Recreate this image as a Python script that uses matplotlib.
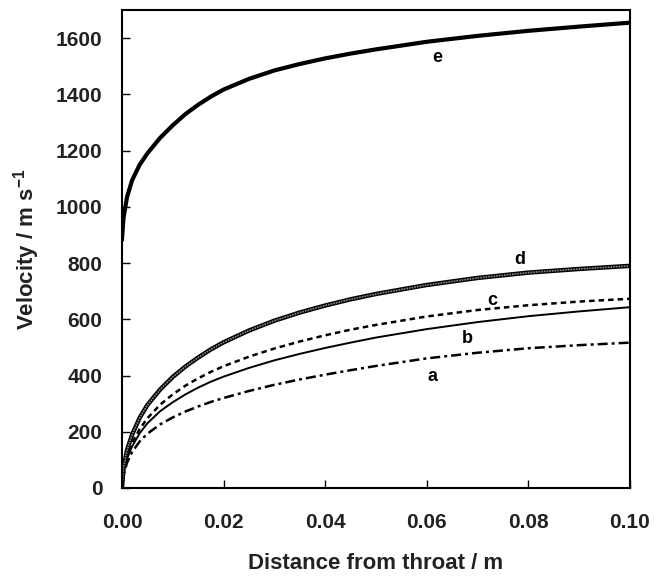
import matplotlib
matplotlib.use("Agg")
import matplotlib.pyplot as plt

plt.rcParams['font.family'] = ['Liberation Sans', 'DejaVu Sans']
plt.rcParams['mathtext.fontset'] = 'custom'
plt.rcParams['mathtext.bf'] = 'Liberation Sans:bold'
plt.rcParams['mathtext.rm'] = 'Liberation Sans:bold'

# distance from throat (m)
dist = [0, 0.0003, 0.001, 0.002, 0.0035, 0.005, 0.0075, 0.01, 0.0125, 0.015, 0.0175, 0.02,
        0.025, 0.03, 0.035, 0.04, 0.045, 0.05, 0.06, 0.07, 0.08, 0.09, 0.10]

# velocities (m/s)
vel_a = [0, 45, 90, 128, 166, 193, 226, 251, 272, 290, 306, 320,
         345, 367, 386, 403, 419, 434, 461, 481, 497, 508, 517]
vel_b = [0, 55, 105, 148, 195, 230, 273, 305, 333, 357, 378, 396,
         427, 454, 477, 498, 517, 535, 565, 590, 611, 628, 643]
vel_c = [0, 60, 115, 160, 210, 248, 296, 333, 364, 390, 413, 433,
         467, 496, 521, 543, 563, 580, 610, 633, 650, 663, 673]
vel_d = [0, 70, 135, 190, 250, 295, 350, 395, 432, 464, 493, 518,
         560, 595, 624, 649, 671, 690, 722, 747, 766, 779, 790]
vel_e = [885, 960, 1035, 1095, 1150, 1190, 1245, 1290, 1330, 1363, 1392, 1417,
         1455, 1485, 1508, 1528, 1545, 1560, 1587, 1608, 1626, 1641, 1655]

# curve labels and where they sit
labels = ['a', 'b', 'c', 'd', 'e']
label_x = [0.0612, 0.0681, 0.0730, 0.0783, 0.0620]
label_y = [395, 533, 668, 811, 1532]

xticks = [0.00, 0.02, 0.04, 0.06, 0.08, 0.10]
yticks = [0, 200, 400, 600, 800, 1000, 1200, 1400, 1600]

fig = plt.figure(figsize=(6.54, 5.76), dpi=100)
ax = fig.add_axes([0.1865, 0.1528, 0.7765, 0.8298])

ax.plot(dist, vel_a, color='black', lw=1.8, linestyle=(0, (4, 1.6, 1.2, 1.6)))
ax.plot(dist, vel_b, color='black', lw=1.4)
ax.plot(dist, vel_c, color='black', lw=1.8, linestyle=(0, (2.2, 1.6)))
# d is a thick line with a grey core
ax.plot(dist, vel_d, color='black', lw=3.2, solid_capstyle='butt')
ax.plot(dist, vel_d, color='#8a8a8a', lw=1.2, linestyle=(0, (1, 0.6)))
ax.plot(dist, vel_e, color='black', lw=3.0)

for lab, lx, ly in zip(labels, label_x, label_y):
    ax.text(lx, ly, lab, fontsize=13, fontweight='bold', ha='center', va='center')

ax.set_xlim(0, 0.10)
ax.set_ylim(0, 1700)
ax.set_xticks(xticks)
ax.set_xticklabels(['%.2f' % v for v in xticks])
ax.set_yticks(yticks)

for s in ax.spines.values():
    s.set_linewidth(1.5)

ax.tick_params(direction='in', length=6, width=1, labelsize=15, top=False, right=False)
ax.tick_params(axis='x', pad=18)
ax.tick_params(axis='y', pad=14)
for t in ax.get_xticklabels() + ax.get_yticklabels():
    t.set_fontweight('bold')
    t.set_color('#222222')

ax.set_xlabel('Distance from throat / m', fontsize=16, fontweight='bold', labelpad=15, color='#222222')
ax.set_ylabel(r'Velocity / m s$^{\mathbf{-1}}$', fontsize=16, fontweight='bold', labelpad=10, color='#222222')

fig.savefig('out.png', dpi=100)
